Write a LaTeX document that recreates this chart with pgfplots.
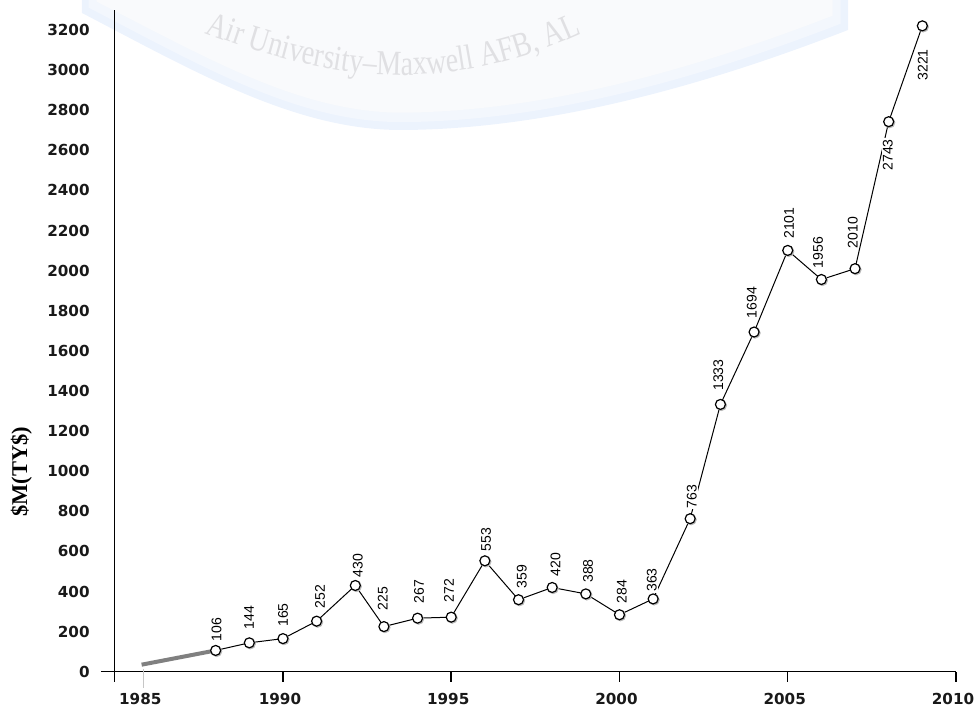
\documentclass[border=0pt]{standalone}
\usepackage{pgfplots}
\pgfplotsset{compat=1.18}
\usepackage{pgfplotstable}
\usepackage{fontspec}
\setmainfont{Liberation Sans}
\newfontfamily\tickfont{DejaVu Sans}
\newfontfamily\timesfont{Liberation Serif}
\newfontfamily\wmfont[FakeStretch=0.8]{Liberation Serif}
\usetikzlibrary{decorations.text}
\definecolor{wmblue}{RGB}{236,243,253}
\definecolor{wmmid}{RGB}{243,247,253}
\definecolor{wminner}{RGB}{249,250,252}
\definecolor{wmtext}{RGB}{224,224,227}
\definecolor{segray}{RGB}{128,128,128}

\pgfplotstableread{
x y lab dx dy
1988 106 106 0.5 10.5
1989 144 144 -0.15 12.65
1990 165 165 0 11.8
1991 252 252 1.7 12.35
1992.15 430 430 1.2 10
1993 225 225 -0.6 14.05
1994 267 267 0.7 13.35
1995 272 272 -1.1 13.35
1996 553 553 0.55 10.65
1997 359 359 1.6 11.6
1998 420 420 1.75 11.5
1999 388 388 1.1 11.45
2000 284 284 1.1 11.65
2001 363 363 -0.7 9.45
2002.1 763 763 0.8 11.1
2003 1333 1333 -1.05 14.7
2004 1694 1694 -1.15 14.8
2005 2101 2101 0.65 13.7
2006 1956 1956 -1.65 13.5
2007 2010 2010 -1.15 18.1
2008 2743 2743 -0.45 -16.65
2009 3221 3221 0.2 -19.55
}\datatable

\begin{document}
\begin{tikzpicture}
% watermark background
\begin{scope}[x=1pt, y=1pt]
\fill[wmblue] (-16.35,340) -- (-16.35,329.35) .. controls (40,300) and (90,271) .. (142.65,270.85)
  .. controls (220,271) and (300,295) .. (366.65,320.85) -- (366.65,340) -- cycle;
\fill[wmmid] (-13,340) -- (-13,332) .. controls (43,303) and (91,275) .. (142.65,274.8)
  .. controls (219,275) and (297,298.5) .. (363,324) -- (363,340) -- cycle;
\fill[wminner] (-9,340) -- (-9,335) .. controls (46,307) and (92,280) .. (142.65,279.5)
  .. controls (218,280) and (294,303) .. (359,328) -- (359,340) -- cycle;
\path[decorate, decoration={text along path, text align=left,
  text format delimiters={|}{|},
  text={|\wmfont\fontsize{17.5}{20}\selectfont\color{wmtext}|Air University–Maxwell AFB{,} AL}}]
  (45.15,319.35) .. controls (75,308) and (110,298.35) .. (142.65,298.35)
  .. controls (175,298.35) and (210,306) .. (248,326);
\end{scope}

\begin{axis}[
  at={(0,0)}, anchor=south west,
  scale only axis, width=420.65pt, height=330.85pt,
  xmin=1985, xmax=2010, ymin=0, ymax=3300,
  axis lines=left, axis line style={draw=none},
  xtick={1990,1995,2000,2005,2010},
  ytick={0,200,...,3200},
  extra x ticks={1985.85}, extra x tick labels={1985},
  extra x tick style={tick style={draw=none}},
  tick align=outside, major tick length=5pt,
  x tick style={black, line width=0.75pt},
  ytick style={draw=none},
  /pgf/number format/1000 sep={},
  /pgf/number format/assume math mode=true,
  ticklabel style={font=\tickfont\bfseries\fontsize{7.6}{9}\selectfont, text=black!90},
  xticklabel style={inner sep=0pt, anchor=north, yshift=-5.65pt, xshift=-1.5pt},
  yticklabel style={inner sep=0pt, anchor=east, xshift=-7.35pt},
  ylabel={\$M(TY\$)},
  ylabel style={at={(axis description cs:-0.1108,0.302)}, anchor=center,
    font=\timesfont\bfseries\fontsize{11.25}{13}\selectfont},
  clip=false,
]
% axis lines
\draw[black, line width=0.75pt] ([xshift=-6.85pt]rel axis cs:0,0) -- (rel axis cs:1,0);
\draw[black, line width=0.75pt] ([yshift=-5pt]rel axis cs:0,0) -- (rel axis cs:0,1);
\draw[gray!45, line width=0.6pt] ([yshift=1.5pt]axis cs:1985.85,0) -- ([yshift=-8pt]axis cs:1985.85,0);

\addplot[segray, line width=2pt] coordinates {(1985.8,35) (1988,106)};

\addplot[only marks, mark=*, mark size=2.6pt, gray!55, mark options={xshift=0.5pt, yshift=-0.5pt}]
  table[x=x, y=y] {\datatable};

\addplot[black, line width=0.5pt, mark=*, mark size=2.5pt,
  mark options={fill=white, draw=black, line width=0.6pt},
  visualization depends on={\thisrow{dx}\as\ldx},
  visualization depends on={\thisrow{dy}\as\ldy},
  point meta=explicit symbolic,
  nodes near coords,
  nodes near coords style={anchor=center, shift={(\ldx pt,\ldy pt)}, rotate=90,
    fill=white, inner sep=0.6pt, font=\fontsize{7}{8}\selectfont, text=black},
] table[x=x, y=y, meta=lab] {\datatable};
\end{axis}
\pgfresetboundingbox
\useasboundingbox (-57.35pt,-17.65pt) rectangle (430.15pt,335.85pt);
\end{tikzpicture}
\end{document}
